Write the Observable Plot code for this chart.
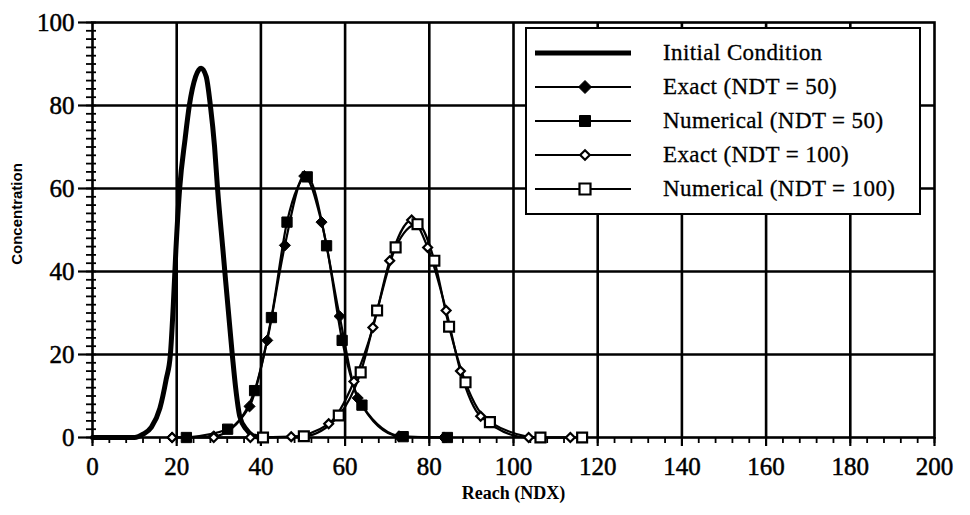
<!DOCTYPE html>
<html>
<head>
<meta charset="utf-8">
<script src="https://cdn.jsdelivr.net/npm/d3@7"></script>
<script src="https://cdn.jsdelivr.net/npm/@observablehq/plot@0.6"></script>
<style>
  body { margin: 0; background: #fff; }
  #wrap { position: relative; width: 970px; height: 515px; }
  #legend { position: absolute; left: 525px; top: 27px; width: 392px; height: 184px;
            border: 2.5px solid #000; background: #fff;
            font-family: "Liberation Serif", "Times New Roman", serif; font-size: 23px; color: #000; }
  .row { position: absolute; left: 8px; height: 30px; display: flex; align-items: center; }
  .row svg { display: block; }
  .row span { position: absolute; left: 128px; white-space: nowrap; letter-spacing: 0.4px; -webkit-text-stroke: 0.3px #000; }
  svg [aria-label="x-axis tick label"] text, svg [aria-label="y-axis tick label"] text { stroke: #000; stroke-width: 0.5px; }
</style>
</head>
<body>
<div id="wrap"></div>
<script>
// ---- data ----
const xTicks = [0, 20, 40, 60, 80, 100, 120, 140, 160, 180, 200];
const yTicks = [0, 20, 40, 60, 80, 100];
const xMinor = d3.range(0, 201, 4);
const yMinor = d3.range(0, 101, 2);
const xGrid = [20, 40, 60, 80, 100, 120, 140, 160, 180];
const yGrid = [20, 40, 60, 80];

const seriesNames = ["Initial Condition", "Exact (NDT = 50)", "Numerical (NDT = 50)", "Exact (NDT = 100)", "Numerical (NDT = 100)"];

const initialX = [0, 10, 12, 14, 16, 17.5, 18.5, 19.2, 19.8, 20.7, 22, 23, 24.5, 25.8, 27, 28, 29, 29.7, 31, 33.2, 34, 35, 36.5, 38, 40];
const initialY = [0, 0, 0.8, 2.5, 7, 14, 20, 32, 45, 60, 72, 80, 87, 89, 87, 80, 70, 60, 45, 20, 12, 5, 2, 0.5, 0];

const exact50X = [18.9, 28.8, 37.3, 41.5, 45.7, 50.3, 54.4, 58.7, 63, 72.8, 83.5];
const exact50Y = [0, 0.3, 7.5, 23.4, 46.3, 63, 51.9, 29.2, 9.5, 0.3, 0];

const num50X = [22.3, 32.1, 38.5, 42.5, 46.2, 51, 55.6, 59.3, 64, 73.8, 84.3];
const num50Y = [0, 2, 11.3, 28.9, 51.9, 62.8, 46.2, 23.4, 7.8, 0.2, 0];

const exact100X = [18.9, 28.8, 37.5, 47.2, 56.1, 62.1, 66.6, 70.6, 75.8, 79.6, 84, 87.4, 92.2, 103.6, 113.5];
const exact100Y = [0, 0, 0, 0.2, 3.3, 13.5, 26.5, 42.6, 52.4, 45.8, 30.6, 16, 5.1, 0, 0];

const num100X = [40.5, 50.2, 58.5, 63.7, 67.6, 72, 77.2, 81.2, 84.7, 88.6, 94.4, 106.4, 116.3];
const num100Y = [0, 0.3, 5.3, 15.7, 30.6, 45.8, 51.4, 42.6, 26.7, 13.3, 3.7, 0, 0];

const xTitle = "Reach (NDX)";
const yTitle = "Concentration";

// ---- tables ----
const zip = (xs, ys) => xs.map((x, i) => ({x, y: ys[i]}));
const initial = zip(initialX, initialY);
const exact50 = zip(exact50X, exact50Y);
const num50 = zip(num50X, num50Y);
const exact100 = zip(exact100X, exact100Y);
const num100 = zip(num100X, num100Y);

const plot = Plot.plot({
  width: 970,
  height: 515,
  marginLeft: 92,
  marginRight: 36,
  marginTop: 22,
  marginBottom: 78,
  x: {domain: [0, 200]},
  y: {domain: [0, 100]},
  style: {fontFamily: "'Liberation Serif', serif", background: "#fff", color: "#000"},
  marks: [
    Plot.gridX(xGrid, {stroke: "#000", strokeOpacity: 1, strokeWidth: 2.6}),
    Plot.gridY(yGrid, {stroke: "#000", strokeOpacity: 1, strokeWidth: 2.6}),
    Plot.axisX({ticks: xMinor, tickSize: 6, text: null, strokeWidth: 1.8, label: null}),
    Plot.axisX({ticks: xTicks, tickSize: 9, tickPadding: 11, fontSize: 25, strokeWidth: 2.2, label: null}),
    Plot.axisY({ticks: yMinor, tickSize: 10, dx: 4, text: null, strokeWidth: 1.8, label: null}),
    Plot.axisY({ticks: yTicks, tickSize: 14, tickPadding: 4, fontSize: 25, strokeWidth: 2.2, label: null}),
    Plot.frame({stroke: "#000", strokeWidth: 2.6}),
    Plot.line(initial, {x: "x", y: "y", stroke: "#000", strokeWidth: 5, curve: "monotone-x"}),
    Plot.line(exact50, {x: "x", y: "y", stroke: "#000", strokeWidth: 2.2, curve: "monotone-x"}),
    Plot.line(num50, {x: "x", y: "y", stroke: "#000", strokeWidth: 2.2, curve: "monotone-x"}),
    Plot.line(exact100, {x: "x", y: "y", stroke: "#000", strokeWidth: 2.2, curve: "monotone-x"}),
    Plot.line(num100, {x: "x", y: "y", stroke: "#000", strokeWidth: 2.2, curve: "monotone-x"}),
    Plot.dot(exact50, {x: "x", y: "y", symbol: "diamond2", r: 5, fill: "#000", stroke: "#000", strokeWidth: 1}),
    Plot.dot(num50, {x: "x", y: "y", symbol: "square", r: 5.8, fill: "#000", stroke: "#000", strokeWidth: 1}),
    Plot.dot(exact100, {x: "x", y: "y", symbol: "diamond2", r: 4, fill: "#fff", stroke: "#000", strokeWidth: 2.2}),
    Plot.dot(num100, {x: "x", y: "y", symbol: "square", r: 5.6, fill: "#fff", stroke: "#000", strokeWidth: 2.2}),
    Plot.text([xTitle], {text: d => d, frameAnchor: "bottom", dy: 61, fontSize: 18, fontWeight: "bold", fontFamily: "'Liberation Serif', serif"}),
    Plot.text([yTitle], {text: d => d, frameAnchor: "left", textAnchor: "middle", dx: -75, dy: -16, rotate: -90, fontSize: 15, fontWeight: "bold", fontFamily: "'Liberation Sans', sans-serif", letterSpacing: "0.6px"})
  ]
});

const wrap = document.getElementById("wrap");
wrap.appendChild(plot);

// ---- legend (HTML overlay) ----
const legend = document.createElement("div");
legend.id = "legend";
const ns = "http://www.w3.org/2000/svg";
const markerKinds = [null, "fdiamond", "fsquare", "odiamond", "osquare"];
seriesNames.forEach((name, i) => {
  const row = document.createElement("div");
  row.className = "row";
  row.style.top = (9 + i * 34) + "px";
  const svg = document.createElementNS(ns, "svg");
  svg.setAttribute("width", 98);
  svg.setAttribute("height", 30);
  const ln = document.createElementNS(ns, "line");
  ln.setAttribute("x1", 0); ln.setAttribute("x2", 96);
  ln.setAttribute("y1", 15); ln.setAttribute("y2", 15);
  ln.setAttribute("stroke", "#000");
  ln.setAttribute("stroke-width", i === 0 ? 5 : 2.2);
  svg.appendChild(ln);
  const k = markerKinds[i];
  if (k) {
    const p = document.createElementNS(ns, "path");
    const cx = 50, cy = 15;
    let d;
    if (k.endsWith("diamond")) { const s = k === "fdiamond" ? 6.5 : 4.8; d = `M${cx},${cy - s}L${cx + s},${cy}L${cx},${cy + s}L${cx - s},${cy}Z`; }
    else { const s = 5.5; d = `M${cx - s},${cy - s}H${cx + s}V${cy + s}H${cx - s}Z`; }
    p.setAttribute("d", d);
    p.setAttribute("fill", k.startsWith("f") ? "#000" : "#fff");
    p.setAttribute("stroke", "#000");
    p.setAttribute("stroke-width", k.startsWith("f") ? 1 : 2.2);
    svg.appendChild(p);
  }
  row.appendChild(svg);
  const span = document.createElement("span");
  span.textContent = name;
  row.appendChild(span);
  legend.appendChild(row);
});
wrap.appendChild(legend);
</script>
</body>
</html>
